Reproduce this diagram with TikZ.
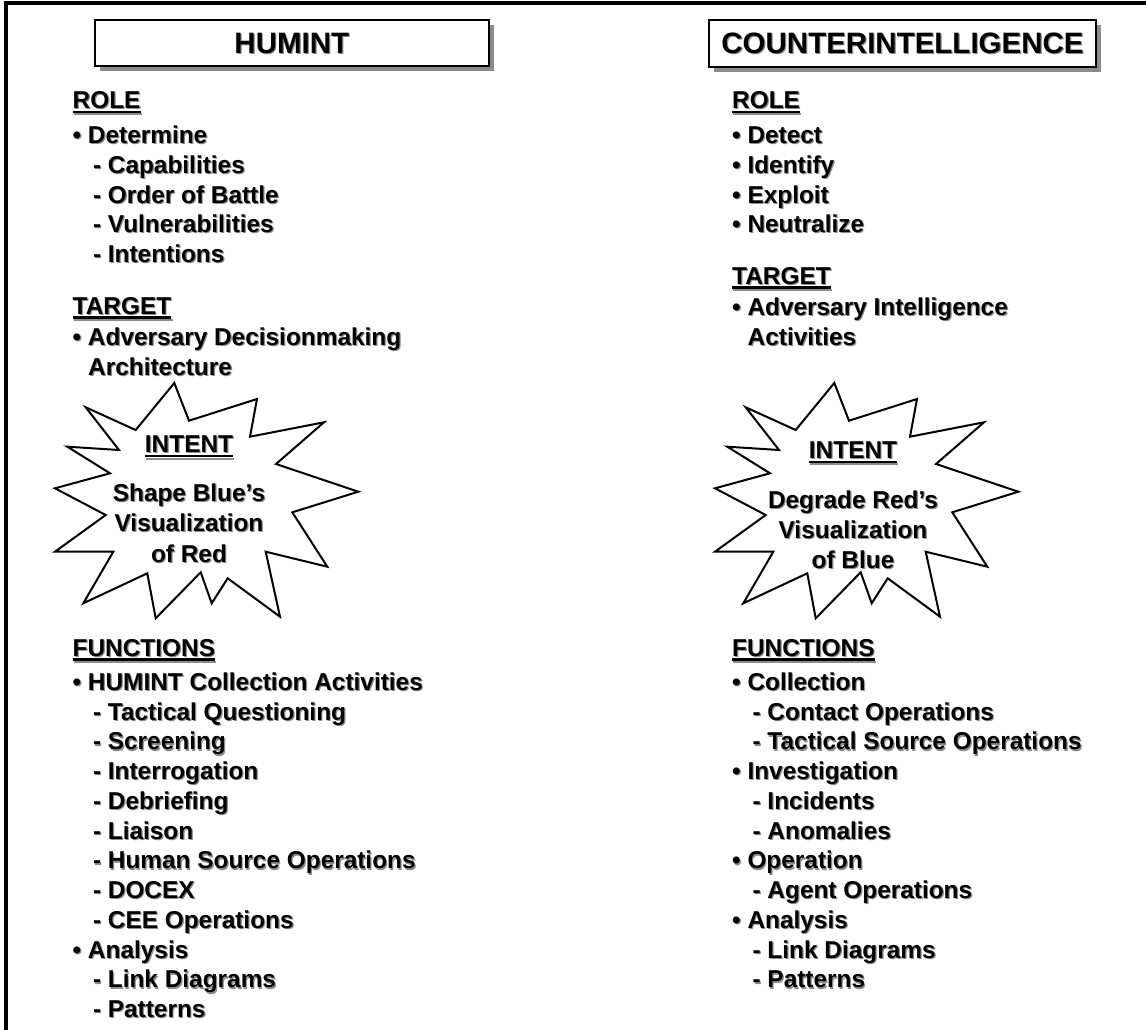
\documentclass[tikz,border=0pt]{standalone}
\usepackage{fontspec}
\setmainfont{Liberation Sans}
\usetikzlibrary{shadows}
\definecolor{shadowgray}{gray}{0.55}
\newcommand\bodyfont{\fontsize{24.4}{29.8}\selectfont\bfseries}
\newcommand\headfont{\fontsize{29.5}{35}\selectfont\bfseries}
\tikzset{
  txt/.style={anchor=base west, inner sep=0pt, font=\bodyfont},
  ctxt/.style={anchor=base, inner sep=0pt, font=\bodyfont},
  htxt/.style={anchor=center, inner sep=0pt, font=\headfont},
  shad/.style={text=shadowgray},
  ul/.style={line width=2.2pt},
  ulshad/.style={line width=2.2pt, draw=shadowgray},
  headbox/.style={draw, line width=2pt, fill=white, inner sep=0pt,
    drop shadow={shadow xshift=5pt, shadow yshift=-5pt, fill=shadowgray, opacity=1}},
  burstline/.style={draw, line width=2pt, fill=white, line join=miter},
  frameline/.style={line width=4pt},
  burst/.pic={
    \draw[burstline] (174.3,383) -- (189,420.7) -- (257,399) -- (250,436.7)
      -- (324,422.3) -- (276,464) -- (358.3,491.7) -- (292.3,512.3)
      -- (327.3,566.7) -- (265.7,551.7) -- (280,616.7) -- (227.7,578.3)
      -- (211.7,603.3) -- (200.7,572.3) -- (155.7,618.3) -- (147.3,573.3)
      -- (83.3,603.3) -- (113.3,551.7) -- (55,551.7) -- (105.7,515)
      -- (55,488.3) -- (110,473.3) -- (67.3,446.7) -- (119,450)
      -- (85.7,407.3) -- (135.7,430) -- cycle;
  }
}
\newcommand\tline[4]{%
  \node[txt, shad] (#1s) at (#2+1.2, #3+1.2) {#4};
  \node[txt] (#1) at (#2, #3) {#4};}
\newcommand\ctline[4]{%
  \node[ctxt, shad] (#1s) at (#2+1.2, #3+1.2) {#4};
  \node[ctxt] (#1) at (#2, #3) {#4};}
\newcommand\headtext[4]{%
  \tline{#1}{#2}{#3}{#4}
  \draw[ulshad] ([yshift=-4.7pt]#1s.base west) -- ([yshift=-4.7pt]#1s.base east);
  \draw[ul] ([yshift=-3.5pt]#1.base west) -- ([yshift=-3.5pt]#1.base east);}
\newcommand\cheadtext[4]{%
  \ctline{#1}{#2}{#3}{#4}
  \draw[ulshad] ([yshift=-4.7pt]#1s.base west) -- ([yshift=-4.7pt]#1s.base east);
  \draw[ul] ([yshift=-3.5pt]#1.base west) -- ([yshift=-3.5pt]#1.base east);}
\begin{document}
\begin{tikzpicture}[x=1pt, y=-1pt]
\useasboundingbox (0,0) rectangle (1146,1030);
% outer frame (top and left edges)
\draw[frameline] (5.5,1030) -- (5.5,3.5) -- (1146,3.5);

% header boxes
\node[headbox, minimum width=393.7pt, minimum height=45.7pt] (hum) at (291.8,43.3) {};
\node[htxt, shad] (humts) at ([xshift=1.2pt, yshift=-1.2pt]hum.center) {HUMINT};
\node[htxt] (humt) at (hum.center) {HUMINT};
\node[headbox, minimum width=387.4pt, minimum height=46.7pt] (ci) at (902.5,43.2) {};
\node[htxt, shad] (cits) at ([xshift=1.2pt, yshift=-1.2pt]ci.center) {COUNTERINTELLIGENCE};
\node[htxt] (cit) at (ci.center) {COUNTERINTELLIGENCE};

% starbursts
\pic at (0,0) {burst};
\pic at (660,0) {burst};

% left column
\headtext{lrole}{72.5}{108.5}{ROLE}
\tline{l1}{72.5}{143}{• Determine}
\tline{l2}{92.8}{173}{- Capabilities}
\tline{l3}{92.8}{203}{- Order of Battle}
\tline{l4}{92.8}{232.5}{- Vulnerabilities}
\tline{l5}{92.8}{262.5}{- Intentions}
\headtext{ltarget}{72.5}{314}{TARGET}
\tline{l6}{72.5}{345}{• Adversary Decisionmaking}
\tline{l7}{88}{375}{Architecture}
\cheadtext{lint}{189}{452.7}{INTENT}
\ctline{li1}{189}{501.7}{Shape Blue’s}
\ctline{li2}{189}{531.7}{Visualization}
\ctline{li3}{189}{562.7}{of Red}
\headtext{lfunc}{72.5}{656}{FUNCTIONS}
\tline{l8}{72.5}{690}{• HUMINT Collection Activities}
\tline{l9}{92.8}{720}{- Tactical Questioning}
\tline{l10}{92.8}{749.8}{- Screening}
\tline{l11}{92.8}{779.5}{- Interrogation}
\tline{l12}{92.8}{809.3}{- Debriefing}
\tline{l13}{92.8}{839}{- Liaison}
\tline{l14}{92.8}{868.8}{- Human Source Operations}
\tline{l15}{92.8}{898.5}{- DOCEX}
\tline{l16}{92.8}{928.3}{- CEE Operations}
\tline{l17}{72.5}{958}{• Analysis}
\tline{l18}{92.8}{987.8}{- Link Diagrams}
\tline{l19}{92.8}{1017.5}{- Patterns}

% right column
\headtext{rrole}{732}{108.5}{ROLE}
\tline{r1}{732}{143}{• Detect}
\tline{r2}{732}{173}{• Identify}
\tline{r3}{732}{203}{• Exploit}
\tline{r4}{732}{232.5}{• Neutralize}
\headtext{rtarget}{732}{284}{TARGET}
\tline{r5}{732}{315}{• Adversary Intelligence}
\tline{r6}{747.5}{345}{Activities}
\cheadtext{rint}{853}{458.3}{INTENT}
\ctline{ri1}{853}{508.3}{Degrade Red’s}
\ctline{ri2}{853}{538.3}{Visualization}
\ctline{ri3}{853}{568.3}{of Blue}
\headtext{rfunc}{732}{656}{FUNCTIONS}
\tline{r7}{732}{690}{• Collection}
\tline{r8}{752.4}{720}{- Contact Operations}
\tline{r9}{752.4}{749.8}{- Tactical Source Operations}
\tline{r10}{732}{779.5}{• Investigation}
\tline{r11}{752.4}{809.3}{- Incidents}
\tline{r12}{752.4}{839}{- Anomalies}
\tline{r13}{732}{868.8}{• Operation}
\tline{r14}{752.4}{898.5}{- Agent Operations}
\tline{r15}{732}{928.3}{• Analysis}
\tline{r16}{752.4}{958}{- Link Diagrams}
\tline{r17}{752.4}{987.8}{- Patterns}
\end{tikzpicture}
\end{document}
